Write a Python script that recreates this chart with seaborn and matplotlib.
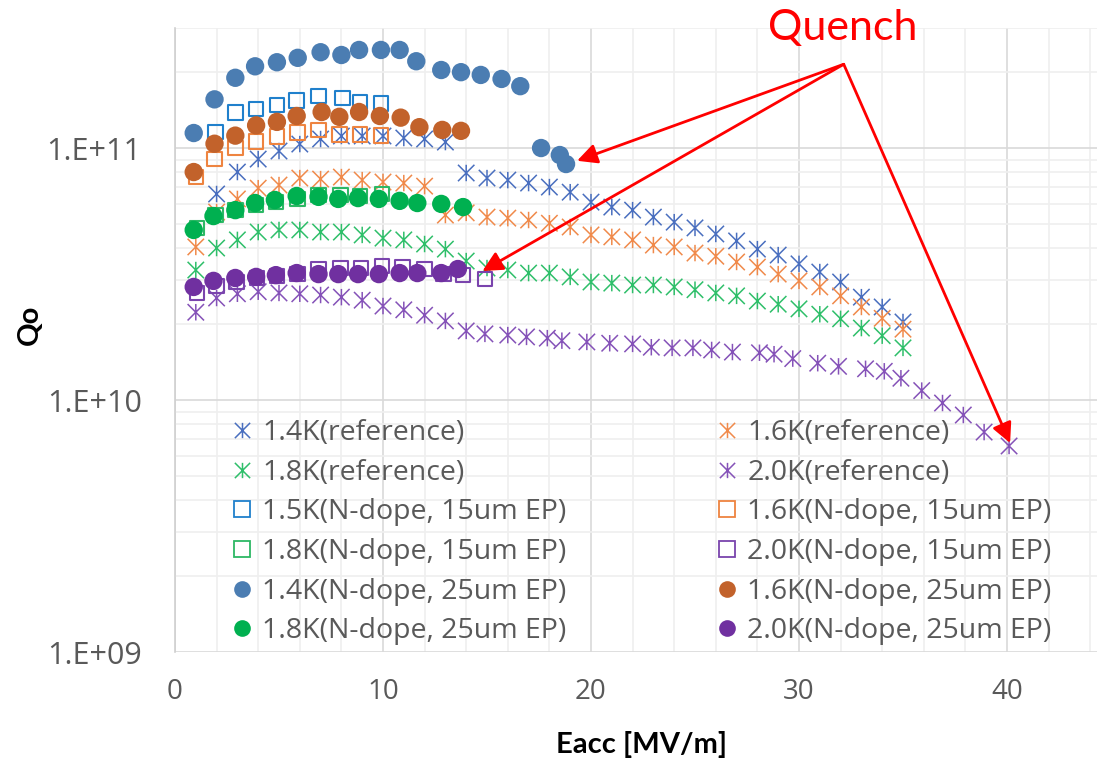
import numpy as np
import matplotlib
matplotlib.use("Agg")
import matplotlib.pyplot as plt
from matplotlib.path import Path
from matplotlib.lines import Line2D
from matplotlib.ticker import LogLocator, MultipleLocator, NullFormatter, FuncFormatter, FixedLocator
import seaborn as sns

# ---------------- data: Eacc [MV/m] and Q0 ----------------
# reference cavity
eacc_ref_14 = np.arange(2, 36)
q0_ref_14 = [6.57e10, 8.03e10, 9.04e10, 9.73e10, 1.037e11, 1.086e11, 1.116e11, 1.116e11,
             1.116e11, 1.096e11, 1.086e11, 1.056e11, 7.96e10, 7.60e10, 7.46e10, 7.26e10,
             7.00e10, 6.68e10, 6.10e10, 5.83e10, 5.67e10, 5.32e10, 5.08e10, 4.82e10,
             4.56e10, 4.28e10, 3.97e10, 3.76e10, 3.47e10, 3.22e10, 2.94e10, 2.56e10,
             2.34e10, 2.04e10]

eacc_ref_16 = np.arange(1, 36)
q0_ref_16 = [4.05e10, 5.57e10, 6.28e10, 6.93e10, 7.13e10, 7.60e10, 7.53e10, 7.67e10,
             7.46e10, 7.33e10, 7.26e10, 7.06e10, 5.42e10, 5.53e10, 5.32e10, 5.27e10,
             5.18e10, 5.03e10, 4.86e10, 4.52e10, 4.44e10, 4.32e10, 4.12e10, 4.05e10,
             3.83e10, 3.72e10, 3.53e10, 3.37e10, 3.16e10, 2.97e10, 2.81e10, 2.59e10,
             2.34e10, 2.11e10, 1.91e10]

eacc_ref_18 = np.arange(1, 36)
q0_ref_18 = [3.28e10, 4.01e10, 4.32e10, 4.64e10, 4.73e10, 4.73e10, 4.64e10, 4.64e10,
             4.52e10, 4.39e10, 4.32e10, 4.16e10, 3.97e10, 3.56e10, 3.34e10, 3.28e10,
             3.19e10, 3.19e10, 3.08e10, 2.94e10, 2.91e10, 2.86e10, 2.86e10, 2.81e10,
             2.74e10, 2.66e10, 2.59e10, 2.47e10, 2.40e10, 2.30e10, 2.19e10, 2.10e10,
             1.93e10, 1.80e10, 1.61e10]

eacc_ref_20 = [1.0, 2.0, 3.0, 4.0, 5.0, 6.0, 7.0, 8.0, 9.0, 10.0, 11.0, 12.0, 13.0, 14.0,
               14.9, 16.0, 16.9, 17.9, 18.6, 19.8, 20.9, 22.0, 22.9, 23.9, 24.9, 25.8,
               26.8, 28.1, 28.8, 29.7, 30.9, 31.9, 33.2, 34.1, 34.9, 35.9, 36.9, 37.9,
               38.9, 40.1]
q0_ref_20 = [2.23e10, 2.54e10, 2.64e10, 2.69e10, 2.66e10, 2.64e10, 2.61e10, 2.56e10,
             2.49e10, 2.36e10, 2.28e10, 2.17e10, 2.06e10, 1.88e10, 1.83e10, 1.81e10,
             1.78e10, 1.76e10, 1.72e10, 1.70e10, 1.68e10, 1.67e10, 1.62e10, 1.61e10,
             1.61e10, 1.58e10, 1.55e10, 1.54e10, 1.52e10, 1.46e10, 1.40e10, 1.36e10,
             1.33e10, 1.30e10, 1.22e10, 1.09e10, 9.73e9, 8.72e9, 7.46e9, 6.57e9]

# N-doped cavity, 15 um EP
eacc_15_15 = [1.95, 2.9, 3.9, 4.9, 5.85, 6.9, 8.05, 8.9, 9.9]
q0_15_15 = [1.157e11, 1.38e11, 1.43e11, 1.48e11, 1.54e11, 1.61e11, 1.58e11, 1.52e11, 1.50e11]

eacc_15_16 = [1.0, 1.9, 2.9, 3.9, 4.9, 5.9, 6.9, 7.9, 8.9, 9.9]
q0_15_16 = [7.67e10, 9.04e10, 1.0e11, 1.06e11, 1.11e11, 1.15e11, 1.18e11, 1.13e11, 1.13e11, 1.12e11]

eacc_15_18 = [1.05, 1.95, 2.9, 3.9, 4.85, 5.9, 6.9, 7.95, 8.9, 9.95]
q0_15_18 = [4.82e10, 5.42e10, 5.67e10, 5.94e10, 6.10e10, 6.28e10, 6.50e10, 6.50e10, 6.45e10, 6.56e10]

eacc_15_20 = [1.05, 2.0, 2.95, 3.95, 4.9, 5.9, 6.9, 7.95, 8.95, 9.95, 10.95, 12.0, 12.9, 13.85, 14.9]
q0_15_20 = [2.66e10, 2.84e10, 2.94e10, 3.05e10, 3.10e10, 3.16e10, 3.31e10, 3.34e10,
            3.34e10, 3.40e10, 3.37e10, 3.31e10, 3.16e10, 3.13e10, 3.02e10]

# N-doped cavity, 25 um EP
eacc_25_14 = [0.9, 1.9, 2.9, 3.85, 4.9, 5.9, 7.0, 8.0, 8.85, 9.9, 10.8, 11.6, 12.8, 13.75,
              14.7, 15.7, 16.6, 17.6, 18.5, 18.8]
q0_25_14 = [1.147e11, 1.56e11, 1.90e11, 2.11e11, 2.19e11, 2.28e11, 2.40e11, 2.34e11,
            2.45e11, 2.45e11, 2.45e11, 2.21e11, 2.04e11, 2.00e11, 1.95e11, 1.88e11,
            1.76e11, 1.00e11, 9.38e10, 8.64e10]

eacc_25_16 = [0.9, 1.9, 2.9, 3.9, 4.9, 5.85, 7.05, 7.9, 8.85, 9.85, 10.85, 11.75, 12.85, 13.75]
q0_25_16 = [8.03e10, 1.04e11, 1.12e11, 1.23e11, 1.27e11, 1.34e11, 1.39e11, 1.33e11,
            1.39e11, 1.34e11, 1.32e11, 1.21e11, 1.18e11, 1.17e11]

eacc_25_18 = [0.9, 1.85, 2.9, 3.85, 4.8, 5.85, 6.9, 7.85, 8.8, 9.8, 10.8, 11.65, 12.8, 13.85]
q0_25_18 = [4.73e10, 5.37e10, 5.67e10, 6.05e10, 6.22e10, 6.45e10, 6.40e10, 6.28e10,
            6.33e10, 6.28e10, 6.17e10, 6.05e10, 6.00e10, 5.83e10]

eacc_25_20 = [0.9, 1.85, 2.9, 3.9, 4.85, 5.85, 6.9, 7.85, 8.8, 9.8, 10.8, 11.65, 12.8, 13.6]
q0_25_20 = [2.81e10, 2.97e10, 3.05e10, 3.08e10, 3.13e10, 3.19e10, 3.16e10, 3.16e10,
            3.16e10, 3.16e10, 3.19e10, 3.19e10, 3.19e10, 3.31e10]

# quench points the arrows point at
quench_tail = (32.15, 2.15e11)
quench_tips = [(19.33, 8.9e10), (14.78, 3.25e10), (40.15, 6.75e9)]

# ---------------- styling ----------------
sns.set_theme(style="white")
plt.rcParams["font.family"] = ["Open Sans", "DejaVu Sans"]

asterisk = Path([(0, -1), (0, 1), (-1, -1), (1, 1), (-1, 1), (1, -1)],
                [Path.MOVETO, Path.LINETO] * 3)

BLUE_REF, ORANGE_REF, GREEN_REF, PURPLE_REF = "#4a6fbf", "#f08a4b", "#2fbf6a", "#8552b8"
BLUE_SQ, ORANGE_SQ, GREEN_SQ, PURPLE_SQ = "#2080cc", "#ee8440", "#2db865", "#7a44ad"
BLUE_C, ORANGE_C, GREEN_C, PURPLE_C = "#4b7db2", "#c2622b", "#00b050", "#7030a0"

series = [
    # (label, x, y, kind, color)
    ("1.4K(reference)", eacc_ref_14, q0_ref_14, "star", BLUE_REF),
    ("1.6K(reference)", eacc_ref_16, q0_ref_16, "star", ORANGE_REF),
    ("1.8K(reference)", eacc_ref_18, q0_ref_18, "star", GREEN_REF),
    ("2.0K(reference)", eacc_ref_20, q0_ref_20, "star", PURPLE_REF),
    ("1.5K(N-dope, 15um EP)", eacc_15_15, q0_15_15, "square", BLUE_SQ),
    ("1.6K(N-dope, 15um EP)", eacc_15_16, q0_15_16, "square", ORANGE_SQ),
    ("1.8K(N-dope, 15um EP)", eacc_15_18, q0_15_18, "square", GREEN_SQ),
    ("2.0K(N-dope, 15um EP)", eacc_15_20, q0_15_20, "square", PURPLE_SQ),
    ("1.4K(N-dope, 25um EP)", eacc_25_14, q0_25_14, "circle", BLUE_C),
    ("1.6K(N-dope, 25um EP)", eacc_25_16, q0_25_16, "circle", ORANGE_C),
    ("1.8K(N-dope, 25um EP)", eacc_25_18, q0_25_18, "circle", GREEN_C),
    ("2.0K(N-dope, 25um EP)", eacc_25_20, q0_25_20, "circle", PURPLE_C),
]

fig = plt.figure(figsize=(10.97, 7.59), dpi=100)
W, H = 1097, 759
x0_px, x45_px, ybot_px, ytop_px = 175, 1111, 652, 27.8
ax = fig.add_axes([x0_px / W, (H - ybot_px) / H, (x45_px - x0_px) / W, (ybot_px - ytop_px) / H])
ax.set_yscale("log")

handles = {}
for label, xs, ys, kind, col in series:
    if kind == "star":
        sns.scatterplot(x=xs, y=ys, ax=ax, marker=asterisk, s=140, color=col,
                        facecolor="none", edgecolor=col, linewidth=1.1, zorder=3)
        handles[label] = Line2D([], [], ls="none", marker=asterisk, ms=11, mec=col,
                                mfc="none", mew=1.1)
    elif kind == "square":
        sns.scatterplot(x=xs, y=ys, ax=ax, marker="s", s=110, color=col,
                        facecolor="none", edgecolor=col, linewidth=1.5, zorder=4)
        handles[label] = Line2D([], [], ls="none", marker="s", ms=11, mec=col,
                                mfc="none", mew=1.3)
    else:
        sns.scatterplot(x=xs, y=ys, ax=ax, marker="o", s=175, color=col,
                        edgecolor="none", linewidth=0, zorder=5)
        handles[label] = Line2D([], [], ls="none", marker="o", ms=12, mec=col,
                                mfc=col, mew=0)

ax.set_xlim(0, 45)
ax.set_ylim(1e9, 3e11)

# axes, ticks and grid
ax.xaxis.set_major_locator(MultipleLocator(10))
ax.xaxis.set_minor_locator(MultipleLocator(2))
ax.yaxis.set_major_locator(FixedLocator([1e9, 1e10, 1e11]))
ax.yaxis.set_minor_locator(LogLocator(base=10, subs=np.arange(2, 10), numticks=20))
ax.yaxis.set_minor_formatter(NullFormatter())
ax.yaxis.set_major_formatter(FuncFormatter(lambda v, p: f"1.E+{int(round(np.log10(v))):02d}"))
ax.set_axisbelow(True)
ax.grid(which="major", color="#d9d9d9", lw=1.2)
ax.grid(which="minor", color="#efefef", lw=1.2)
ax.tick_params(which="both", length=0)
ax.tick_params(axis="y", labelsize=22, labelcolor="#595959", pad=24)
ax.tick_params(axis="x", labelsize=20, labelcolor="#595959", pad=19)
for side in ("top", "right", "bottom"):
    ax.spines[side].set_visible(False)
ax.spines["left"].set_color("#d0d0d0")
ax.spines["left"].set_linewidth(1.2)

ax.set_xlabel("Eacc [MV/m]", fontsize=21, fontweight="bold", family=["Lato", "DejaVu Sans"],
              color="black", va="center")
ax.xaxis.set_label_coords((641 - x0_px) / (x45_px - x0_px), (ybot_px - 745) / (ybot_px - ytop_px))
ax.set_ylabel("Qo", fontsize=21, fontweight="bold", family=["Lato", "DejaVu Sans"],
              color="black", va="center")
ax.yaxis.set_label_coords((30 - x0_px) / (x45_px - x0_px), (ybot_px - 325) / (ybot_px - ytop_px))

# legend: two columns, each built as its own legend block
col1 = ["1.4K(reference)", "1.8K(reference)", "1.5K(N-dope, 15um EP)",
        "1.8K(N-dope, 15um EP)", "1.4K(N-dope, 25um EP)", "1.8K(N-dope, 25um EP)"]
col2 = ["1.6K(reference)", "2.0K(reference)", "1.6K(N-dope, 15um EP)",
        "2.0K(N-dope, 15um EP)", "1.6K(N-dope, 25um EP)", "2.0K(N-dope, 25um EP)"]
leg_kw = dict(loc="upper left", frameon=False, borderpad=0, borderaxespad=0,
              handlelength=1.0, handletextpad=0.2, labelspacing=0.41, fontsize=20.5,
              labelcolor="#595959", bbox_transform=fig.transFigure)
fig.legend([handles[k] for k in col1], col1, bbox_to_anchor=(228 / W, (H - 419) / H), **leg_kw)
fig.legend([handles[k] for k in col2], col2, bbox_to_anchor=(713 / W, (H - 419) / H), **leg_kw)

# quench annotation
ax.text(quench_tail[0] - 0.05, 3.0e11, "Quench", color="#ff0000", fontsize=31,
        family=["Lato", "DejaVu Sans"], ha="center", va="center")
for tip in quench_tips:
    ax.annotate("", xy=tip, xytext=quench_tail, xycoords="data", textcoords="data",
                arrowprops=dict(arrowstyle="-|>,head_length=0.6,head_width=0.3",
                                color="#ff0000", lw=2.0, shrinkA=0, shrinkB=0,
                                mutation_scale=20),
                zorder=6)

fig.savefig("out.png", dpi=100)
